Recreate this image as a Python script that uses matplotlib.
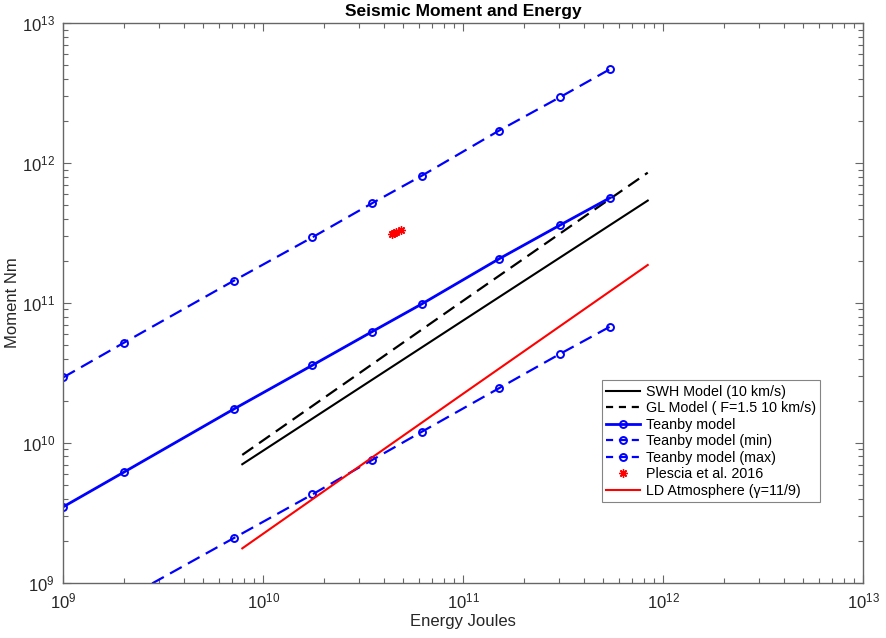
import numpy as np
import matplotlib
matplotlib.use("Agg")
import matplotlib.pyplot as plt
from matplotlib.ticker import LogLocator, NullFormatter

plt.rcParams['font.family'] = ['Liberation Sans', 'DejaVu Sans']
plt.rcParams['mathtext.fontset'] = 'custom'
plt.rcParams['mathtext.rm'] = 'Liberation Sans'
plt.rcParams['mathtext.it'] = 'Liberation Sans:italic'

# Teanby model energies (J) and moments (Nm)
teanby_E = [1.0e9, 2.0e9, 7.1e9, 1.76e10, 3.5e10, 6.2e10, 1.51e11, 3.04e11, 5.4e11]
teanby_M = [3.49e9, 6.15e9, 1.74e10, 3.59e10, 6.24e10, 9.84e10, 2.07e11, 3.6e11, 5.64e11]
teanby_min = [4.3e8, 7.6e8, 2.08e9, 4.28e9, 7.54e9, 1.2e10, 2.46e10, 4.32e10, 6.76e10]
teanby_max = [2.94e10, 5.18e10, 1.44e11, 2.95e11, 5.17e11, 8.13e11, 1.71e12, 2.96e12, 4.69e12]

# SWH model
swh_E = [7.85e9, 1.36e11, 8.36e11]
swh_M = [7.03e9, 1.0e11, 5.4e11]
# GL model
gl_E = [7.85e9, 1.0e11, 8.36e11]
gl_M = [8.2e9, 1.04e11, 8.55e11]
# LD Atmosphere
ld_E = [7.85e9, 1.0e11, 8.36e11]
ld_M = [1.76e9, 2.25e10, 1.87e11]
# Plescia et al. 2016
pl_E = [4.4e10, 4.5e10, 4.6e10, 4.9e10]
pl_M = [3.1e11, 3.16e11, 3.2e11, 3.35e11]

W, H = 886, 638
fig = plt.figure(figsize=(W/100, H/100), dpi=100)
ax = fig.add_axes([63.3/W, 1-582.7/H, 800/W, (582.7-23.3)/H])

dash = (6, 3.2)
ax.plot(swh_E, swh_M, '-', color='k', lw=1.5, label='SWH Model (10 km/s)')
ax.plot(gl_E, gl_M, '--', color='k', lw=1.6, dashes=dash, label='GL Model ( F=1.5 10 km/s)')
ax.plot(teanby_E, teanby_M, '-o', color='b', lw=2, ms=5, mfc='none', mew=1.4, label='Teanby model')
ax.plot(teanby_E, teanby_min, '--o', color='b', lw=1.6, ms=5, mfc='none', mew=1.4, dashes=dash, label='Teanby model (min)')
ax.plot(teanby_E, teanby_max, '--o', color='b', lw=1.6, ms=5, mfc='none', mew=1.4, dashes=dash, label='Teanby model (max)')
ax.plot(pl_E, pl_M, ls='none', marker=(8, 2, 0), color='r', ms=6, mew=1.0, label='Plescia et al. 2016')
ax.plot(ld_E, ld_M, '-', color='r', lw=1.5, label='LD Atmosphere (\u03b3=11/9)')

ax.set_xscale('log')
ax.set_yscale('log')
ax.set_xlim(1e9, 1e13)
ax.set_ylim(1e9, 1e13)
ax.xaxis.set_major_locator(LogLocator(base=10, numticks=10))
ax.yaxis.set_major_locator(LogLocator(base=10, numticks=10))
ax.xaxis.set_minor_locator(LogLocator(base=10, subs=np.arange(2, 10), numticks=20))
ax.yaxis.set_minor_locator(LogLocator(base=10, subs=np.arange(2, 10), numticks=20))
ax.xaxis.set_minor_formatter(NullFormatter())
ax.yaxis.set_minor_formatter(NullFormatter())

axc = '0.4'
for s in ax.spines.values():
    s.set_color(axc)
    s.set_linewidth(1.0)
ax.tick_params(which='both', direction='in', top=True, right=True, colors=axc,
               labelcolor='0.15', labelsize=12)
ax.tick_params(which='major', length=6, width=0.8, pad=6)
ax.tick_params(which='minor', length=3.5, width=0.8)

ax.set_xlabel('Energy Joules', fontsize=12, color='0.15', labelpad=2)
ax.set_ylabel('Moment Nm', fontsize=12, color='0.15', labelpad=1)
ax.set_title('Seismic Moment and Energy', fontsize=12.5, fontweight='bold', pad=5)

leg = ax.legend(loc='upper left', bbox_to_anchor=((601.7-63.3)/800, (582.7-380.3)/(582.7-23.3)),
                fontsize=10.3, frameon=True, fancybox=False, borderpad=0.3,
                labelspacing=0.18, handlelength=2.4, handletextpad=0.4, borderaxespad=0)
leg.get_frame().set_edgecolor('0.4')
leg.get_frame().set_linewidth(0.8)
for ln in leg.get_lines():
    if ln.get_linestyle() == '--':
        ln.set_dashes((3.2, 2.6))

fig.savefig('out.png', dpi=100)
